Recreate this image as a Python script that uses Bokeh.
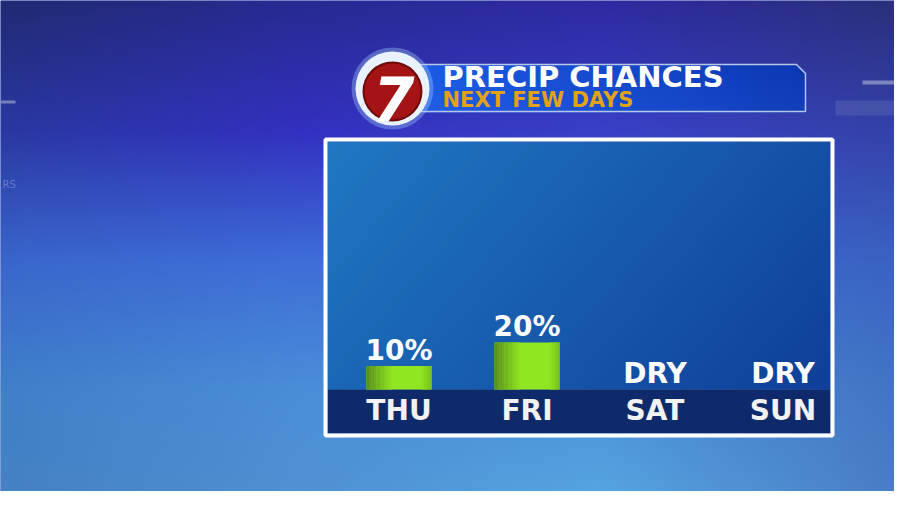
import numpy as np
from bokeh.plotting import figure
from bokeh.models import Range1d
from bokeh.core.properties import value
from bokeh.embed import file_html
from bokeh.resources import INLINE

# ---------------- data ----------------
days = ["THU", "FRI", "SAT", "SUN"]
precip_pct = [10, 20, 0, 0]
title_text = "PRECIP CHANCES"
subtitle_text = "NEXT FEW DAYS"
logo_text = "7"

# ---------------- canvas (reference pixel space, y measured up) ----------------
W, H = 910, 507
PW, PH = 894, 491


def Y(y):
    return H - y


def lift(size):
    # baseline correction for the svg text layout
    return -0.38 * size


p = figure(width=PW, height=PH, x_range=Range1d(0, PW), y_range=Range1d(H - PH, H),
           output_backend="svg", toolbar_location=None, min_border=0,
           x_axis_location=None, y_axis_location=None)
p.grid.visible = False
p.outline_line_color = None
p.background_fill_color = "#2f4fb8"
p.border_fill_color = "#2f4fb8"

# day axis (index -> pixel) and percent axis (percent -> pixel)
day_step, day0 = 128.0, 398.5
p.extra_x_ranges = {"day": Range1d((0 - day0) / day_step, (PW - day0) / day_step)}
base_up, px_per_pct = Y(389), 2.35
p.extra_y_ranges = {"pct": Range1d((H - PH - base_up) / px_per_pct, (H - base_up) / px_per_pct)}


# ---------------- background raster ----------------
def rgb(h):
    h = h.lstrip("#")
    return np.array([int(h[i:i + 2], 16) for i in (0, 2, 4)], dtype=float)


def hexc(c):
    return "#%02x%02x%02x" % tuple(int(round(v)) for v in c)


ctrl_y = [0, 130, 260, 390, 507]
ctrl_x = [0, 300, 600, 910]
grid_hex = [
    ["#212a72", "#282a92", "#2e2aa2", "#2a3078"],
    ["#2a38a2", "#3330c0", "#3a40c8", "#3442a8"],
    ["#3a66cc", "#3e6ed8", "#3a6ad2", "#3a62c2"],
    ["#3f80c8", "#4a8ed8", "#4a90da", "#4274c2"],
    ["#4680c2", "#5092d2", "#58a8e2", "#4a7cc4"],
]
grid = np.array([[rgb(c) for c in row] for row in grid_hex])  # (5,4,3)
ys = np.arange(H)
xs = np.arange(W)
Wy = np.stack([np.interp(ys, ctrl_y, np.eye(5)[k]) for k in range(5)], axis=1)
Wx = np.stack([np.interp(xs, ctrl_x, np.eye(4)[k]) for k in range(4)], axis=1)
img = np.einsum("yk,xj,kjc->yxc", Wy, Wx, grid)

XX, YY = np.meshgrid(xs, ys)

# panel interior gradient
c0, c1 = rgb("#2079c2"), rgb("#0f3f98")
m = (XX >= 327) & (XX < 830) & (YY >= 141) & (YY < 389)
t = 0.7 * (XX - 327) / 503 + 0.3 * (YY - 141) / 248
t = np.clip(t, 0, 1)[..., None]
pan = c0 * (1 - t) + c1 * t
img[m] = pan[m]

# banner gradient
b0, b1 = rgb("#1c5ae4"), rgb("#0b37b2")
mb = (XX >= 418) & (XX <= 805) & (YY >= 64) & (YY <= 111) & ~(XX > 796 + (YY - 64))
tb = np.clip((XX - 418) / 387, 0, 1)[..., None]
ban = b0 * (1 - tb) + b1 * tb
tv = np.clip((YY - 64) / 47, 0, 1)[..., None]
ban = ban * (1 - 0.15 * tv) + rgb("#3a70f0") * 0.15 * tv
img[mb] = ban[mb]

img = np.clip(img, 0, 255).astype(np.uint8)[::-1]
rgba = np.empty((H, W), dtype=np.uint32)
view = rgba.view(dtype=np.uint8).reshape((H, W, 4))
view[..., :3] = img
view[..., 3] = 255
p.image_rgba(image=[rgba], x=0, y=0, dw=W, dh=H)

# faint background decorations
p.quad(left=[0, 862, 835], right=[15, 905, 910], bottom=[Y(103), Y(84), Y(115)], top=[Y(100), Y(80), Y(100)],
       fill_color=["#8c94c4", "#9098c8", "#5a68b0"], fill_alpha=[0.8, 0.8, 0.45], line_color=None)
p.text(x=[2], y=[Y(188)], text=["RS"], text_font=value("DejaVu Sans"), text_font_size="10px",
       text_color="#7f90d8", text_alpha=0.7, text_baseline="alphabetic", y_offset=lift(10))

# ---------------- panel ----------------
p.quad(left=[327], right=[830], top=[Y(389)], bottom=[Y(433)], fill_color="#0f2a6a", line_color=None)
p.quad(left=[325], right=[832], top=[Y(139)], bottom=[Y(435)], fill_color=None,
       line_color="white", line_width=4)

# bars (horizontal shading: darker left edge, bright lime centre)
idx = list(range(len(days)))
bw = 65 / day_step
p.vbar(x=idx, top=precip_pct, bottom=0, width=bw, x_range_name="day", y_range_name="pct",
       fill_color="#90e620", line_color=None)
n_strips = 10
strip = 2.5 / day_step
dark, lime = rgb("#5c921c"), rgb("#90e620")
for k in range(n_strips):
    f = k / n_strips
    col = hexc(dark * (1 - f) + lime * f)
    p.vbar(x=[i - bw / 2 + strip * (k + 0.5) for i in idx], top=precip_pct, bottom=0, width=strip * 1.05,
           x_range_name="day", y_range_name="pct", fill_color=col, line_color=None)
for k in range(4):
    f = k / 4
    col = hexc(rgb("#7cc41e") * (1 - f) + lime * f)
    p.vbar(x=[i + bw / 2 - strip * (k + 0.5) for i in idx], top=precip_pct, bottom=0, width=strip * 1.05,
           x_range_name="day", y_range_name="pct", fill_color=col, line_color=None)

# value labels
labels = [f"{v}%" if v > 0 else "DRY" for v in precip_pct]
p.text(x=idx, y=precip_pct, text=labels, x_range_name="day", y_range_name="pct",
       text_font=value("DejaVu Sans"), text_font_style="bold", text_font_size="28px",
       text_color="white", text_align="center", text_baseline="alphabetic", y_offset=-5 + lift(28))

# day labels
p.text(x=idx, y=[0] * len(days), text=days, x_range_name="day", y_range_name="pct",
       text_font=value("DejaVu Sans"), text_font_style="bold", text_font_size="28px",
       text_color="#f2f2f2", text_align="center", text_baseline="alphabetic", y_offset=32 + lift(28))

# ---------------- title banner ----------------
p.patch(x=[418, 796, 805, 805, 418], y=[Y(64), Y(64), Y(73), Y(111), Y(111)],
        fill_color=None, line_color="#b8c6e6", line_width=1.5)
p.text(x=[442], y=[Y(88)], text=[title_text], text_font=value("DejaVu Sans"), text_font_style="bold",
       text_font_size="29px", text_color="white", text_baseline="alphabetic", y_offset=lift(29))
p.text(x=[442], y=[Y(107)], text=[subtitle_text], text_font=value("DejaVu Sans"), text_font_style="bold",
       text_font_size="21px", text_color="#e2a312", text_baseline="alphabetic", y_offset=lift(21))

# logo
p.circle(x=[392], y=[Y(88)], radius=41, fill_color="#a8d0ff", fill_alpha=0.35, line_color=None)
p.circle(x=[392], y=[Y(88)], radius=37, fill_color="#e9f3ff", line_color=None)
p.circle(x=[392], y=[Y(91)], radius=30, fill_color="#6e0a0a", line_color=None)
p.circle(x=[392], y=[Y(91)], radius=28, fill_color="#a51414", line_color=None)
p.text(x=[393], y=[Y(121)], text=[logo_text], text_font=value("DejaVu Sans"), text_font_style="bold italic",
       text_font_size="60px", text_color="white", text_align="center", text_baseline="alphabetic",
       y_offset=lift(60))

open("out.html", "w").write(file_html(p, INLINE))
